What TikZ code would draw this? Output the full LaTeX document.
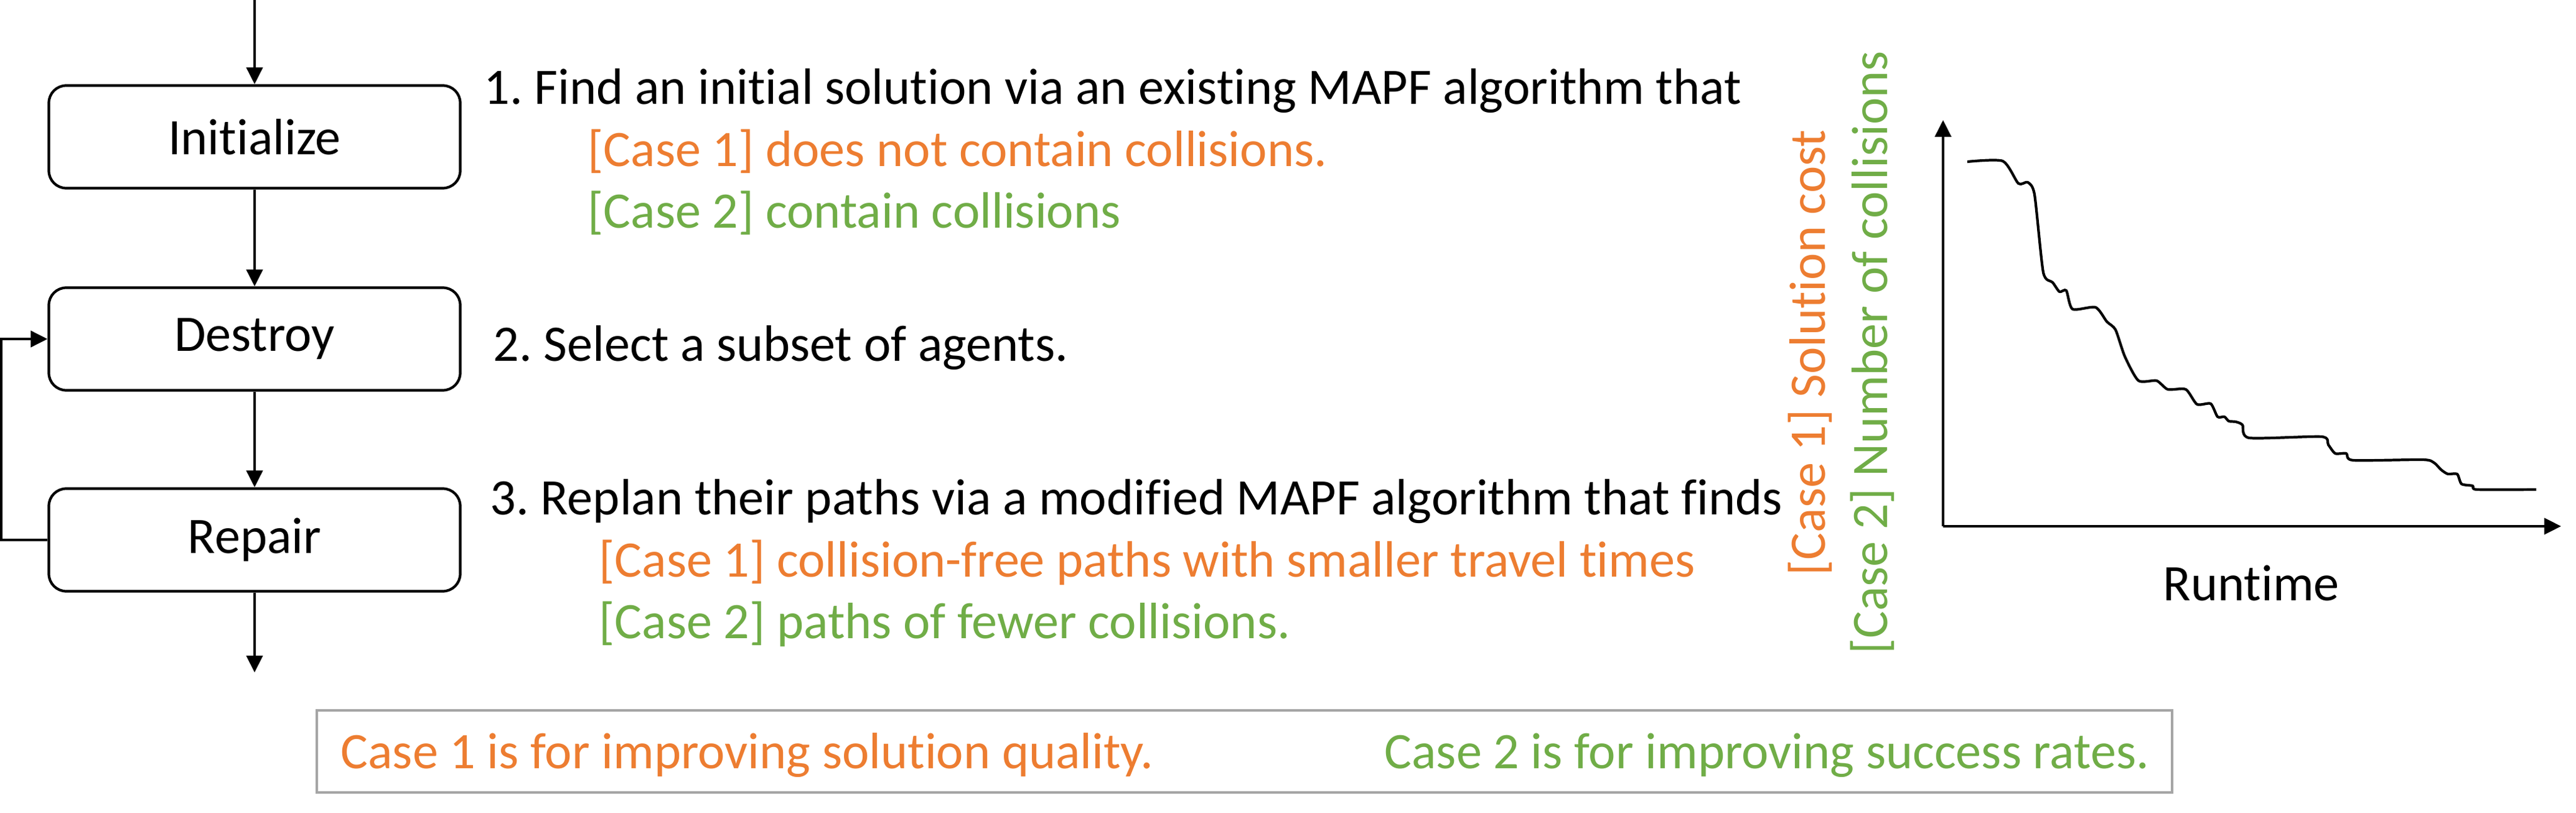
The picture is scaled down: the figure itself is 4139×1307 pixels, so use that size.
\documentclass[tikz,border=0pt]{standalone}
\usepackage{fontspec}
\setmainfont{Carlito}[Ligatures=NoCommon]
\frenchspacing
\usetikzlibrary{arrows.meta}
\definecolor{caseone}{HTML}{ED7D31}
\definecolor{casetwo}{HTML}{70AD47}
\definecolor{notegray}{HTML}{A5A5A5}
\tikzset{
  stepbox/.style={draw, rounded corners=2.8mm, minimum width=66.1mm, minimum height=16.5mm, line width=1.2pt},
  flow/.style={-{Triangle[length=2.7mm,width=2.6mm]}, line width=1.2pt},
  txt/.style={anchor=base west, inner sep=0pt},
}
\begin{document}
\begin{tikzpicture}[x=0.1mm, y=-0.1mm, font=\fontsize{23.4}{27}\selectfont]
	\useasboundingbox (0,0) rectangle (4139,1307);
	%\draw[help lines, step=100] (0,0) grid (4139,1307);

	% flow chart
	\coordinate (in) at (409,0);
	\node[stepbox] (init) at (409,220) {Initialize};
	\node[stepbox] (destroy) at (409,545) {Destroy};
	\node[stepbox] (repair) at (409,868) {Repair};
	\coordinate (out) at (409,1081);
	\draw[flow] (in) -- (init);
	\draw[flow] (init) -- (destroy);
	\draw[flow] (destroy) -- (repair);
	\draw[flow] (repair) -- (out);
	\draw[flow] (repair.west) -- ++(-75,0) |- (destroy.west);

	% steps
	\node[txt] (s1) at (777,168) {1. Find an initial solution via an existing MAPF algorithm that};
	\node[txt, text=caseone] (s1a) at (944,268) {[Case 1] does not contain collisions.};
	\node[txt, text=casetwo] (s1b) at (944,367) {[Case 2] contain collisions};
	\node[txt] (s2) at (792,580) {2. Select a subset of agents.};
	\node[txt] (s3) at (787,827) {3. Replan their paths via a modified MAPF algorithm that finds};
	\node[txt, text=caseone] (s3a) at (962,927) {[Case 1] collision-free paths with smaller travel times};
	\node[txt, text=casetwo] (s3b) at (962,1026) {[Case 2] paths of fewer collisions.};

	% chart
	\coordinate (o) at (3122,846);
	\coordinate (ytop) at (3122,193);
	\coordinate (xend) at (4115,846);
	\draw[flow] (o) -- (ytop);
	\draw[flow] (o) -- (xend);
	\draw[line width=1.2pt, line join=round] plot[smooth, tension=0.4] coordinates {
		(3161,260) (3218,259) (3243,295) (3258,293) (3269,313) (3283,438)
		(3298,454) (3309,469) (3320,467) (3330,497) (3367,494) (3385,517)
		(3399,530) (3414,573) (3436,612) (3465,612) (3483,626) (3512,626)
		(3530,650) (3552,649) (3563,670) (3574,670) (3581,677) (3592,678)
		(3603,683) (3614,704) (3730,702) (3741,715) (3752,729) (3770,729)
		(3781,740) (3893,739) (3911,744) (3922,755) (3933,762) (3948,762)
		(3955,778) (3973,781) (3980,787) (4075,787)};
	\node[anchor=base, rotate=90, inner sep=0pt, text=caseone] (ylab1) at (2932,567) {[Case 1] Solution cost};
	\node[anchor=base, rotate=90, inner sep=0pt, text=casetwo] (ylab2) at (3032,567) {[Case 2] Number of collisions};
	\node[anchor=base, inner sep=0pt] (xlab) at (3617,965) {Runtime};

	% note
	\node[draw=notegray, line width=1.1pt, minimum width=298.1mm, minimum height=13.2mm, inner sep=0pt] (note) at (1999.5,1208) {};
	\node[txt, text=caseone] (note1) at (547,1235) {Case 1 is for improving solution quality.};
	\node[txt, text=casetwo] (note2) at (2224,1235) {Case 2 is for improving success rates.};
\end{tikzpicture}
\end{document}
